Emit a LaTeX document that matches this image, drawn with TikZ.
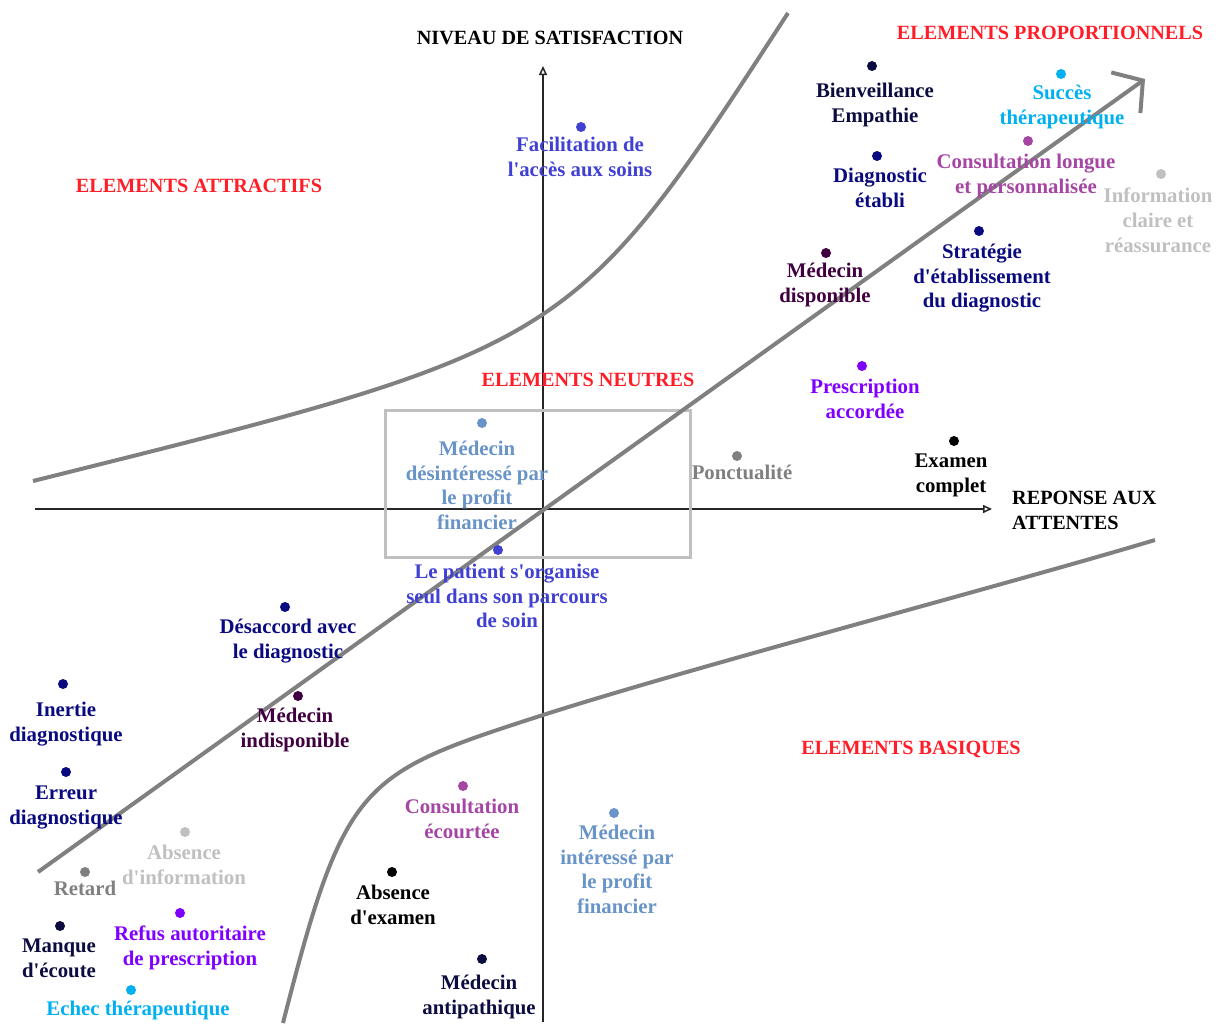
\documentclass[tikz,border=0pt]{standalone}
\usepackage{fontspec}
\setmainfont{Liberation Serif}
\usetikzlibrary{arrows.meta,positioning}

\definecolor{darknavy}{RGB}{12,12,64}
\definecolor{navy}{RGB}{10,10,128}
\definecolor{darkplum}{RGB}{64,0,64}
\definecolor{skyblue}{RGB}{0,176,240}
\definecolor{orchid}{RGB}{165,70,165}
\definecolor{violet}{RGB}{128,0,255}
\definecolor{royal}{RGB}{64,64,210}
\definecolor{steel}{RGB}{105,148,200}
\definecolor{pale}{RGB}{192,192,192}
\definecolor{midgray}{RGB}{128,128,128}
\definecolor{zonered}{RGB}{255,30,40}

\begin{document}
\begin{tikzpicture}[x=1pt,y=-1pt]
  \tikzset{dot/.style = {shape=circle,minimum size=10pt,inner sep=0pt}}
  \tikzset{lbl/.style = {align=center,anchor=north,inner sep=0pt,font=\bfseries\fontsize{20.8}{24.6}\selectfont}}
  \tikzset{zone/.style = {text=zonered,inner sep=0pt,font=\bfseries\fontsize{20.2}{24.6}\selectfont}}
  \tikzset{axis/.style = {line width=1.5pt,draw=black!85,-{Triangle[open,length=9pt,width=8pt]}}}
  \tikzset{curve/.style = {line width=4pt,draw=midgray}}

  \useasboundingbox (0,0) rectangle (1220,1025);

  % axes
  \coordinate (O) at (543,509);
  \coordinate (xfrom) at (35,509);
  \coordinate (xto) at (992,509);
  \coordinate (yfrom) at (543,1022);
  \coordinate (yto) at (543,66);
  \draw[axis] (xfrom) -- (xto);
  \draw[axis] (yfrom) -- (yto);

  % zone of neutral elements
  \draw[line width=3pt,draw=pale] (385,410) rectangle (690,557);

  % separating curves
  \draw[curve] (33,481) .. controls (571,347) and (571,347) .. (788,13);
  \draw[curve] (283,1023) .. controls (345,780) and (360,774) .. (543,715)
                          .. controls (693,667) and (1005,585) .. (1155,540);
  \coordinate (dfrom) at (38,872);
  \coordinate (dto) at (1145,79);
  \draw[curve,-{Straight Barb[length=21pt,width=50pt]}] (dfrom) -- (dto);

  % titles
  \node[inner sep=0pt,font=\bfseries\fontsize{20.2}{24.6}\selectfont] (ytitle) at (550,38) {NIVEAU DE SATISFACTION};
  \node[inner sep=0pt,align=left,anchor=north west,font=\bfseries\fontsize{20.2}{24.6}\selectfont] (xtitle) at (1012,491) {REPONSE AUX\\ATTENTES};
  \node[zone] (zprop) at (1050,33) {ELEMENTS PROPORTIONNELS};
  \node[zone] (zattr) at (199,186) {ELEMENTS ATTRACTIFS};
  \node[zone] (zneut) at (588,380) {ELEMENTS NEUTRES};
  \node[zone] (zbas) at (911,749) {ELEMENTS BASIQUES};

  % elements
  \foreach \nm/\px/\py/\tx/\ty/\col/\txt in {
      bienv/872/66/875/91/darknavy/{Bienveillance\\Empathie},
      succes/1061/74/1062/93/skyblue/{Succès\\thérapeutique},
      diagetab/877/156/880/176/navy/{Diagnostic\\établi},
      conslong/1028/141/1026/162/orchid/{Consultation longue\\et personnalisée},
      info/1161/174/1158/196/pale/{Information\\claire et\\réassurance},
      strat/979/231/982/252/navy/{Stratégie\\d\textquotesingle établissement\\du diagnostic},
      meddisp/826/253/825/271/darkplum/{Médecin\\disponible},
      facil/581/127/580/145/royal/{Facilitation de\\l\textquotesingle accès aux soins},
      prescacc/862/366/865/387/violet/{Prescription\\accordée},
      examcomp/954/441/951/462/black/{Examen\\complet},
      ponct/737/456/742/473/midgray/{Ponctualité},
      meddesint/482/423/477/449/steel/{Médecin\\désintéressé par\\le profit\\financier},
      patient/498/550/507/572/royal/{Le patient s\textquotesingle organise\\seul dans son parcours\\de soin},
      desacc/285/607/288/627/navy/{Désaccord avec\\le diagnostic},
      inertie/63/684/66/710/navy/{Inertie\\diagnostique},
      medindisp/298/696/295/716/darkplum/{Médecin\\indisponible},
      erreur/66/772/66/794/navy/{Erreur\\diagnostique},
      absinfo/185/832/184/853/pale/{Absence\\d\textquotesingle information},
      retard/85/872/85/889/midgray/{Retard},
      refus/180/913/190/934/violet/{Refus autoritaire\\de prescription},
      manque/60/926/59/947/darknavy/{Manque\\d\textquotesingle écoute},
      echec/131/990/138/1009/skyblue/{Echec thérapeutique},
      conscourt/463/786/462/807/orchid/{Consultation\\écourtée},
      medint/614/813/617/833/steel/{Médecin\\intéressé par\\le profit\\financier},
      absexam/392/872/393/893/black/{Absence\\d\textquotesingle examen},
      medanti/482/959/479/983/darknavy/{Médecin\\antipathique}}
  {
    \node[dot,fill=\col] (\nm) at (\px,\py) {};
    \node[lbl,text=\col] (\nm-txt) at (\tx,\ty-8) {\txt};
  }

\end{tikzpicture}
\end{document}
